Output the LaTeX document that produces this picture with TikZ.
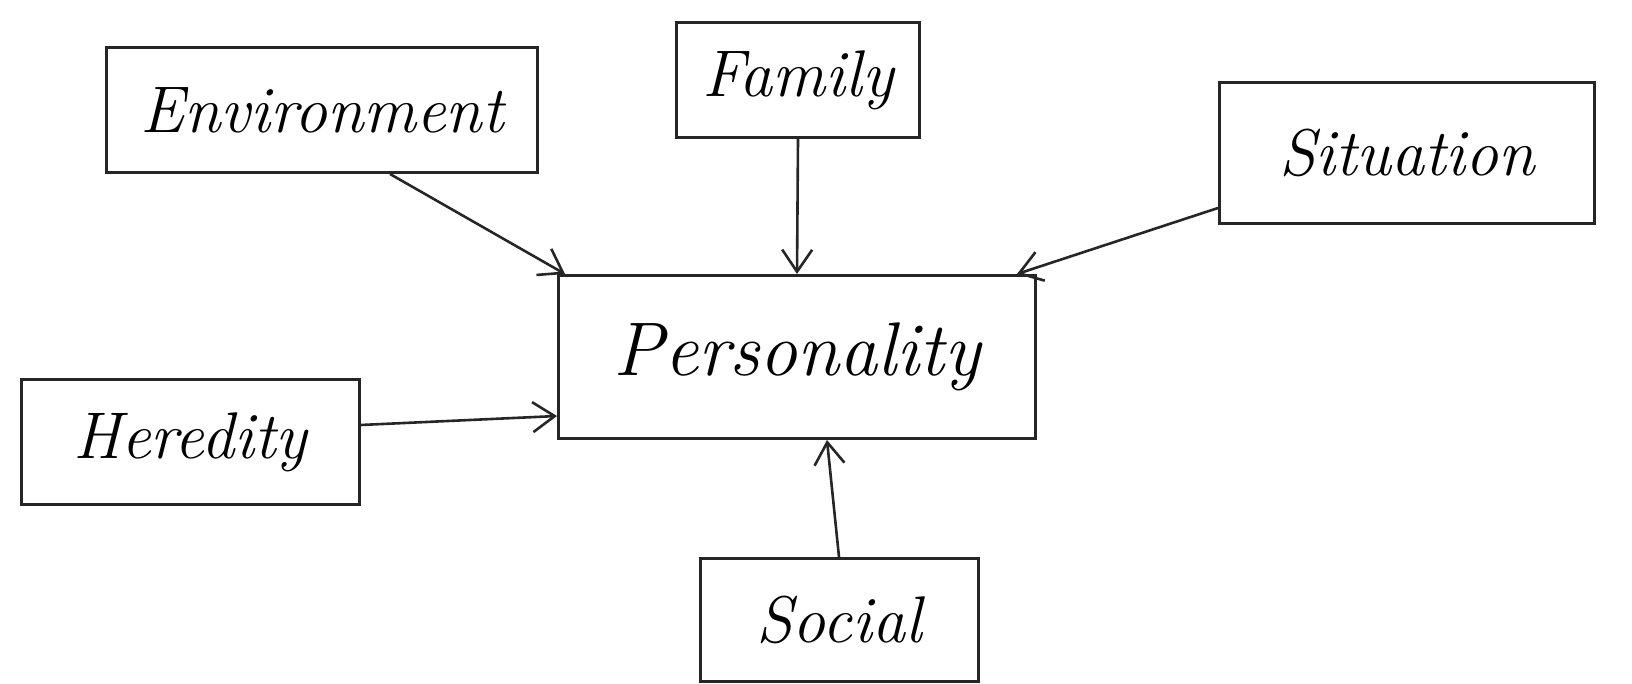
\documentclass[tikz,border=0pt]{standalone}
\usetikzlibrary{arrows.meta,calc}
\begin{document}
\begin{tikzpicture}[x=1pt,y=-1pt,
  box/.style={draw=black!85,line width=3pt,inner sep=0pt,font=\itshape\fontsize{66}{70}\selectfont},
  conn/.style={draw=black!85,line width=2.6pt,-{Straight Barb[length=22pt,width=30pt,line width=2.6pt]}}]
\useasboundingbox (0,0) rectangle (1632,683);
\node[box,minimum width=431pt,minimum height=125pt] (env) at (322,110) {Environment};
\node[box,minimum width=243pt,minimum height=115pt] (fam) at (798,80) {Family};
\node[box,minimum width=375pt,minimum height=141pt] (sit) at (1407,153) {Situation};
\node[box,minimum width=477pt,minimum height=163pt,font=\itshape\fontsize{76}{80}\selectfont] (pers) at (797,357) {Personality};
\node[box,minimum width=338pt,minimum height=125pt] (her) at (190,442) {Heredity};
\node[box,minimum width=278pt,minimum height=123pt] (soc) at (839,620) {Social};
\draw[conn] ($(env.south)+(68,0)$) -- ($(pers.north west)+(8,0)$);
\draw[conn] (fam.south) -- (pers.north);
\draw[conn] ($(sit.west)+(0,55)$) -- ($(pers.north east)+(-20,0)$);
\draw[conn] ($(her.east)+(0,-17)$) -- ($(pers.west)+(0,59)$);
\draw[conn] (soc.north) -- ($(pers.south)+(30,0)$);
\end{tikzpicture}
\end{document}
